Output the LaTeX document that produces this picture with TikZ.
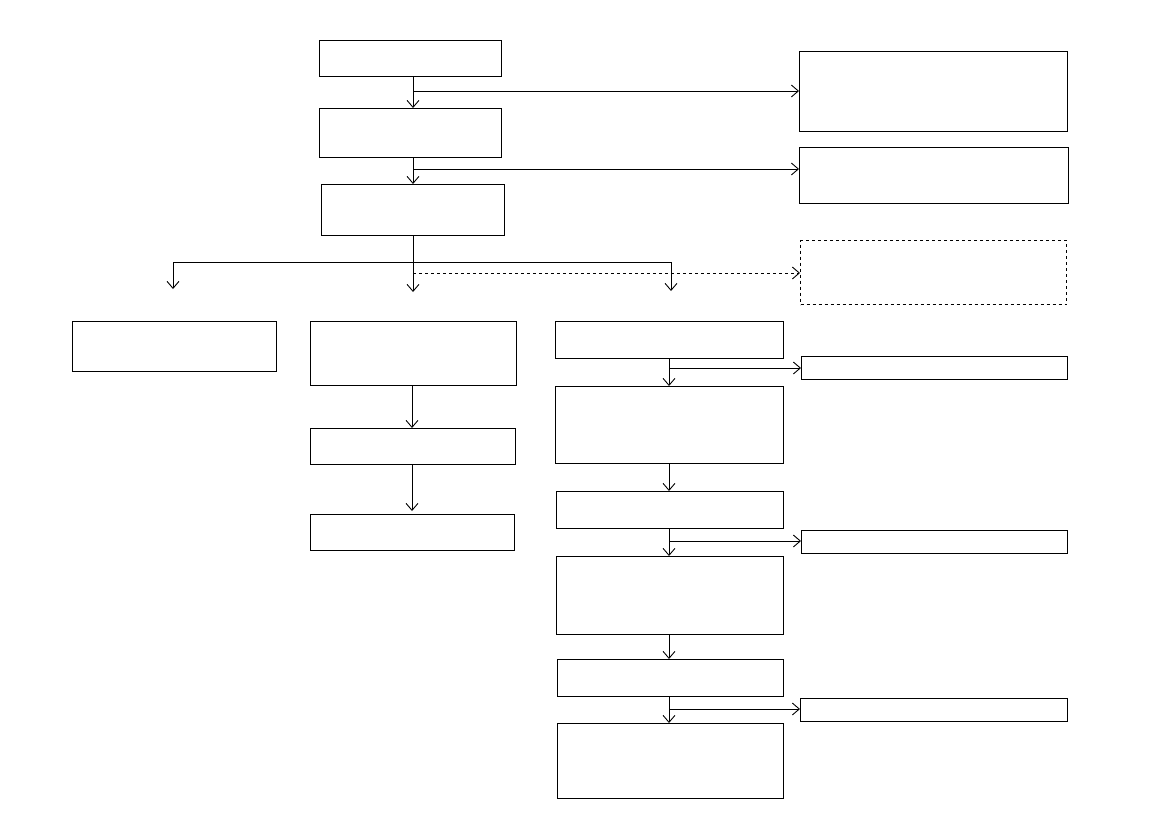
\documentclass[tikz,border=0pt]{standalone}
\usetikzlibrary{arrows.meta}
\begin{document}
\begin{tikzpicture}[x=1pt,y=-1pt,
  box/.style={draw,line width=1pt,inner sep=0pt},
  dbox/.style={box,dashed},
  arr/.style={line width=0.9pt,-{Straight Barb[length=7pt,width=12pt,line width=0.9pt]}},
  ln/.style={line width=0.9pt}]
\useasboundingbox (0,0) rectangle (1169,827);
\newcommand{\bx}[6][box]{\node[#1,anchor=north west,minimum width=#4-#2,minimum height=#5-#3] (#6) at (#2,#3) {};}
\bx{319}{40}{501}{76}{A}
\bx{319}{108}{501}{157}{B}
\bx{321}{184}{504}{235}{C}
\bx{799}{51}{1067}{131}{R1}
\bx{799}{147}{1068}{203}{R2}
\bx[dbox]{800}{240}{1066}{304}{R3}
\bx{72}{321}{276}{371}{L1}
\bx{310}{321}{516}{385}{M1}
\bx{310}{428}{515}{464}{M2}
\bx{310}{514}{514}{550}{M3}
\bx{555}{321}{783}{358}{N1}
\bx{801}{356}{1067}{379}{S1}
\bx{555}{386}{783}{463}{N2}
\bx{556}{491}{783}{528}{N3}
\bx{801}{530}{1067}{553}{S2}
\bx{556}{556}{783}{634}{N4}
\bx{557}{659}{783}{696}{N5}
\bx{800}{698}{1067}{721}{S3}
\bx{557}{723}{783}{798}{N6}
% top column
\draw[arr] (413,76) -- (413,108);
\coordinate (a1) at (413,91);
\draw[arr] (a1) -- (R1.west |- a1);
\draw[arr] (413,157) -- (413,184);
\coordinate (b1) at (413,169);
\draw[arr] (b1) -- (R2.west |- b1);
% split
\coordinate (c1) at (413,262);
\coordinate (cl) at (173,262);
\coordinate (cr) at (671,262);
\coordinate (cle) at (173,289);
\coordinate (cme) at (413,292);
\coordinate (cre) at (671,291);
\draw[arr] (413,235) -- (cme);
\draw[ln] (cl) -- (cr);
\draw[arr] (cl) -- (cle);
\draw[arr] (cr) -- (cre);
\coordinate (d1) at (413,273);
\draw[arr,dashed] (d1) -- (R3.west |- d1);
% middle column
\draw[arr] (412,385) -- (412,428);
\draw[arr] (412,464) -- (412,511);
% right column
\draw[arr] (669,358) -- (669,386);
\coordinate (n1) at (669,368);
\draw[arr] (n1) -- (S1.west |- n1);
\draw[arr] (669,463) -- (669,491);
\draw[arr] (669,528) -- (669,556);
\coordinate (n3) at (669,541);
\draw[arr] (n3) -- (S2.west |- n3);
\draw[arr] (669,634) -- (669,659);
\draw[arr] (669,696) -- (669,723);
\coordinate (n5) at (669,709);
\draw[arr] (n5) -- (S3.west |- n5);
\end{tikzpicture}
\end{document}
